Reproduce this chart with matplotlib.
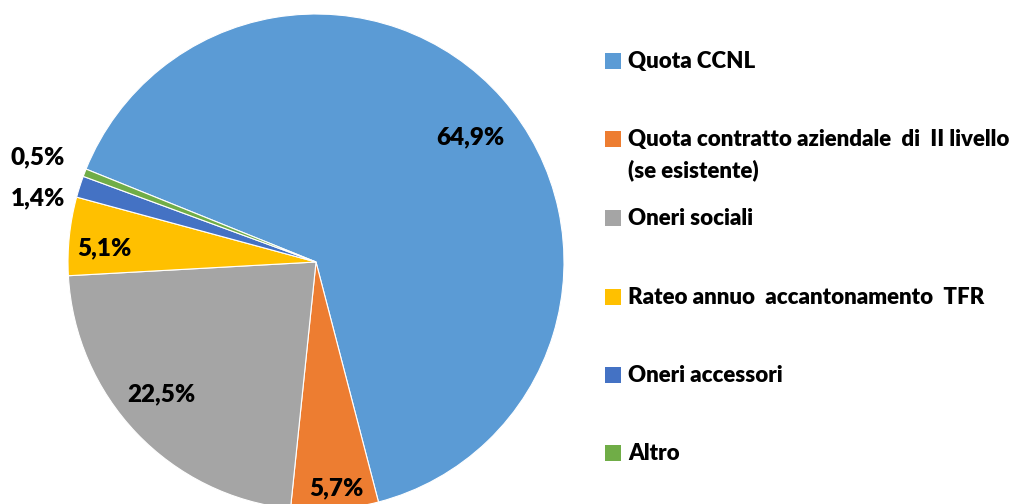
import numpy as np
import matplotlib
matplotlib.use("Agg")
import matplotlib.pyplot as plt
from matplotlib.patches import Rectangle

categories = ["Quota CCNL",
              "Quota contratto aziendale  di  II livello\n(se esistente)",
              "Oneri sociali",
              "Rateo annuo  accantonamento  TFR",
              "Oneri accessori",
              "Altro"]
values = [64.9, 5.7, 22.5, 5.1, 1.4, 0.5]
value_labels = ["64,9%", "5,7%", "22,5%", "5,1%", "1,4%", "0,5%"]
colors = ["#5B9BD5", "#ED7D31", "#A5A5A5", "#FFC000", "#4472C4", "#70AD47"]

plt.rcParams['font.family'] = ['Lato', 'DejaVu Sans']

W, H = 1034, 504
fig = plt.figure(figsize=(W / 100, H / 100), dpi=100)

cx, cy, r = 316, 242, 248
ax = fig.add_axes([(cx - r) / W, (cy - r) / H, 2 * r / W, 2 * r / H])
wedges, _ = ax.pie(values, colors=colors, startangle=158, counterclock=False,
                   radius=1.0, wedgeprops=dict(edgecolor="white", linewidth=0.8))
ax.set_xlim(-1, 1)
ax.set_ylim(-1, 1)
ax.set_aspect("equal")
ax.axis("off")

label_dist = [0.80, 0.915, 0.82, 0.855, 1.15, 1.20]
angle_adj = [-2.5, 0.8, -3.0, 2.2, 4.7, 0.5]
for w, lab, d, da in zip(wedges, value_labels, label_dist, angle_adj):
    mid = np.deg2rad((w.theta1 + w.theta2) / 2 + da)
    ax.text(d * np.cos(mid), d * np.sin(mid), lab, ha="center", va="center",
            fontsize=17.5, fontweight=800, color="black", clip_on=False)

# legend
row_y = [61, 139, 218, 297, 375, 453]
sq = 16
for y, c, name in zip(row_y, colors, categories):
    fig.add_artist(Rectangle(((605) / W, (H - y - sq / 2) / H), sq / W, sq / H,
                             transform=fig.transFigure, facecolor=c, edgecolor="none"))
    fig.text(628 / W, (H - y + 10) / H, name, ha="left", va="top",
             fontsize=16, fontweight=800, color="black", linespacing=1.5)

fig.savefig("out.png", dpi=100)
